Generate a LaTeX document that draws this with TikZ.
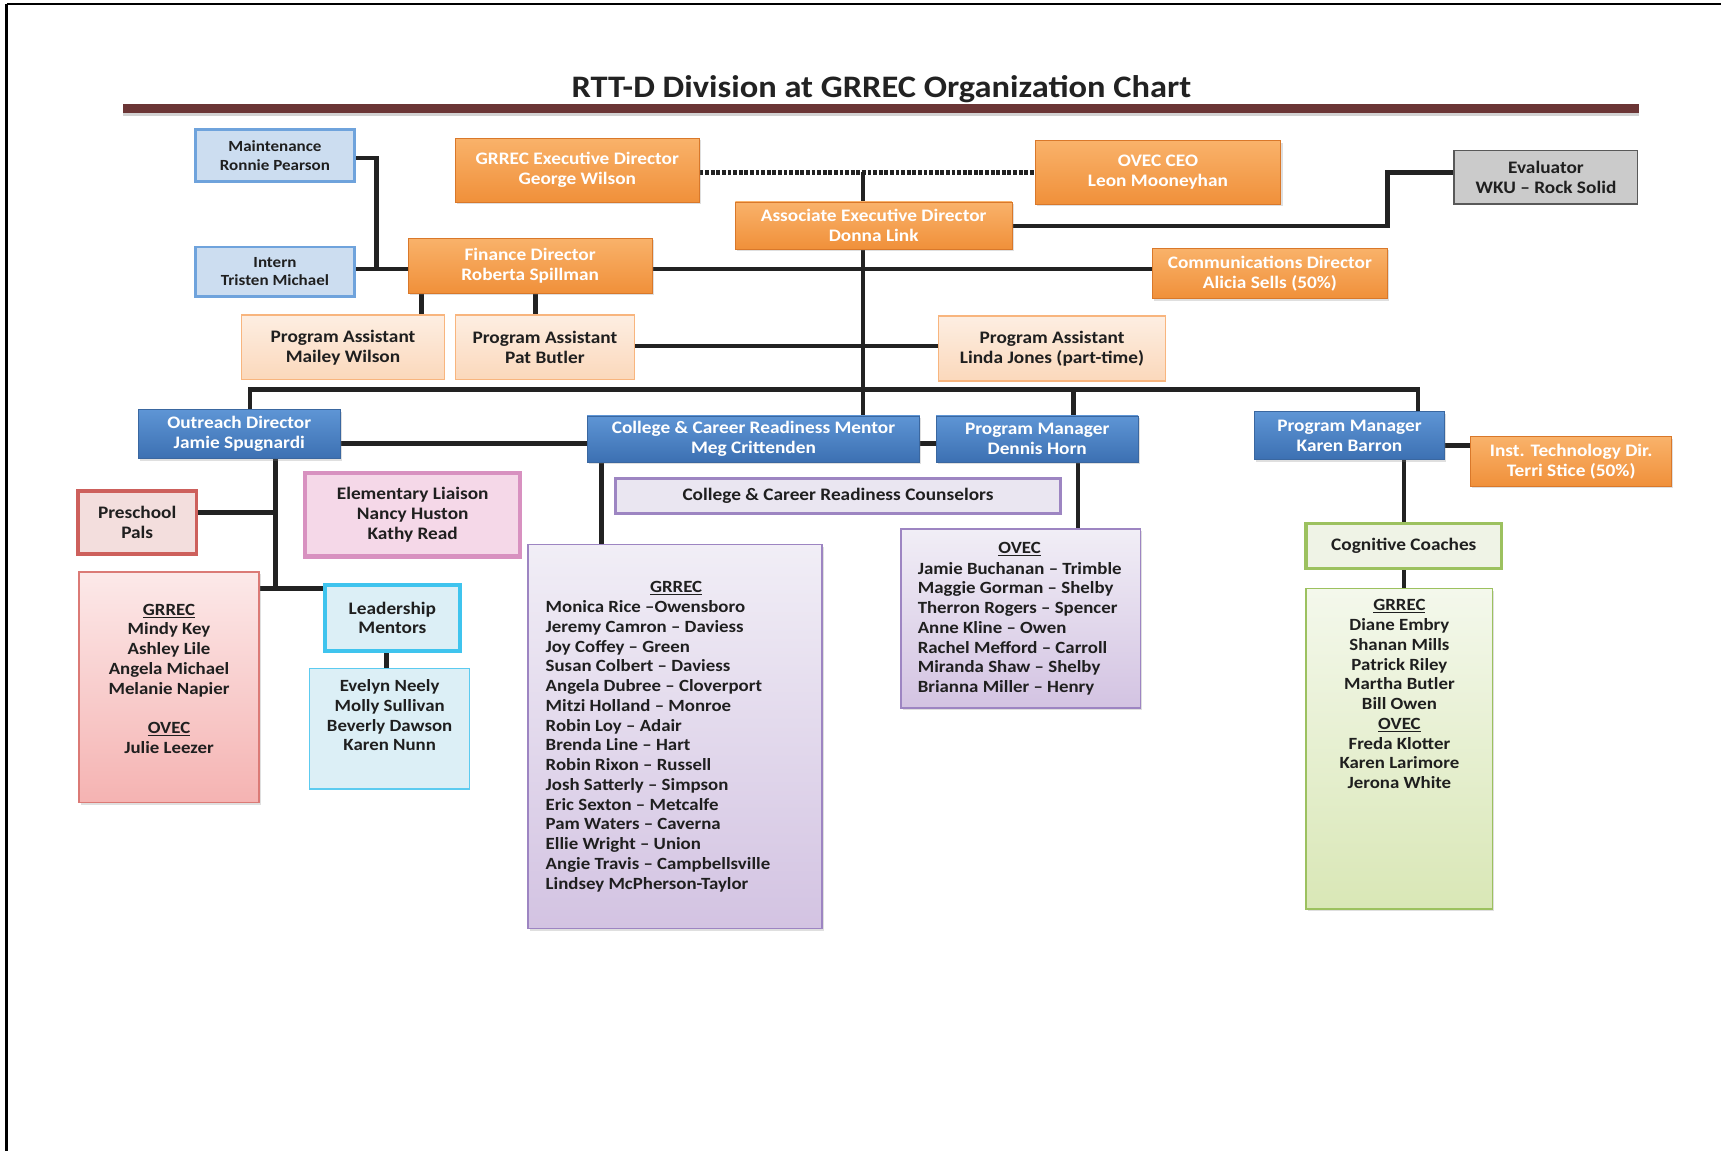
\documentclass[tikz,border=0pt]{standalone}
\usepackage{fontspec}
\setmainfont{Carlito}[FakeStretch=1.1]
\usetikzlibrary{shadows}
\pgfdeclarelayer{bg}
\pgfsetlayers{bg,main}
\definecolor{ink}{HTML}{1F1F1F}
\definecolor{linec}{HTML}{222222}
\definecolor{barc}{HTML}{6B3535}
\definecolor{orT}{HTML}{F9B26A}
\definecolor{orB}{HTML}{F0903A}
\definecolor{orD}{HTML}{D9782A}
\definecolor{blT}{HTML}{5E95D5}
\definecolor{blB}{HTML}{3C70B2}
\definecolor{blD}{HTML}{3A67A0}
\definecolor{lbF}{HTML}{CCDDF0}
\definecolor{lbD}{HTML}{6FA3DC}
\definecolor{pcT}{HTML}{FDEEE2}
\definecolor{pcB}{HTML}{FBD8BB}
\definecolor{pcD}{HTML}{F8B57E}
\definecolor{gyF}{HTML}{CBCBCB}
\definecolor{gyD}{HTML}{595959}
\definecolor{rdF}{HTML}{F3DEDD}
\definecolor{rdD}{HTML}{CD605C}
\definecolor{pkT}{HTML}{FCE9E9}
\definecolor{pkB}{HTML}{F5B3B2}
\definecolor{pkD}{HTML}{DB7A76}
\definecolor{elF}{HTML}{F5D8E8}
\definecolor{elD}{HTML}{D891C0}
\definecolor{cyF}{HTML}{DCEFF6}
\definecolor{cyD}{HTML}{3FC4EE}
\definecolor{cyL}{HTML}{5CCBF0}
\definecolor{puF}{HTML}{EAE6F1}
\definecolor{puD}{HTML}{9D85C2}
\definecolor{puT}{HTML}{F1EEF6}
\definecolor{puB}{HTML}{D3C3E2}
\definecolor{gnF}{HTML}{EFF3E6}
\definecolor{gnD}{HTML}{9CC15F}
\definecolor{gnT}{HTML}{F4F8EC}
\definecolor{gnB}{HTML}{D9E7B6}
\newcommand\fntT{\fontsize{28.5}{34}\selectfont\bfseries}
\newcommand\fntM{\fontsize{16}{18}\selectfont\bfseries}
\newcommand\fntS{\fontsize{14.1}{17}\selectfont\bfseries}
\newcommand\fntL{\fontsize{15.6}{18}\selectfont\bfseries}
\begin{document}
\begin{tikzpicture}[x=1pt,y=-1pt,
  box/.style={inner sep=0pt, align=center, font=\fntM, text=ink},
  sz/.style 2 args={minimum width=#1pt, minimum height=#2pt},
  shad/.style={drop shadow={opacity=0.25, shadow xshift=1.5pt, shadow yshift=-2pt}},
  orangebox/.style={box, shad, draw=orD, line width=0.8pt, top color=orT, bottom color=orB, text=white},
  bluebox/.style={box, shad, draw=blD, line width=0.8pt, top color=blT, bottom color=blB, text=white},
  ltbluebox/.style={box, draw=lbD, line width=2.6pt, fill=lbF, font=\fntS},
  peachbox/.style={box, draw=pcD, line width=1.2pt, top color=pcT, bottom color=pcB},
  graybox/.style={box, draw=gyD, line width=1.5pt, fill=gyF},
  redbox/.style={box, draw=rdD, line width=3.5pt, fill=rdF},
  pinklist/.style={box, shad, draw=pkD, line width=1.3pt, top color=pkT, bottom color=pkB},
  elembox/.style={box, draw=elD, line width=4pt, fill=elF},
  cyanbox/.style={box, draw=cyD, line width=4pt, fill=cyF},
  cyanlist/.style={box, draw=cyL, line width=1.3pt, fill=cyF},
  purplebox/.style={box, draw=puD, line width=3pt, fill=puF},
  purplelist/.style={box, shad, draw=puD, line width=1.3pt, top color=puT, bottom color=puB},
  greenbox/.style={box, draw=gnD, line width=3.5pt, fill=gnF},
  greenlist/.style={box, shad, draw=gnD, line width=1.3pt, top color=gnT, bottom color=gnB},
  listtxt/.style={inner sep=0pt, font=\fntL, text=ink},
  conn/.style={draw=linec, line width=4pt},
  dotconn/.style={draw=linec, line width=4pt, dash pattern=on 3.5pt off 1.6pt}]
\useasboundingbox (0,0) rectangle (1568,1049);
\begin{pgfonlayer}{bg}
\fill[white] (0,0) rectangle (1568,1049);
\end{pgfonlayer}
% page frame
\draw[line width=2pt] (6,3.6) -- (1568,3.6);
\draw[line width=2pt] (6,3.6) -- (6,1049);
% title
\node[font=\fntT, text=linec] (title) at (803,81) {RTT-D Division at GRREC Organization Chart};
\fill[gray!35] (112,101) rectangle (1493,106);
\fill[barc] (112,95) rectangle (1493,103);
% top boxes
\node[ltbluebox, sz={145}{47}] (maint) at (250.5,141.5) {Maintenance\\Ronnie Pearson};
\node[ltbluebox, sz={145}{45}] (intern) at (250.5,247.5) {Intern\\Tristen Michael};
\node[orangebox, sz={222}{58}] (gexec) at (526,155) {GRREC Executive Director\\George Wilson};
\node[orangebox, sz={224}{58}] (ovec) at (1055,157) {OVEC CEO\\Leon Mooneyhan};
\node[orangebox, sz={252}{43}] (aed) at (796,205.5) {Associate Executive Director\\Donna Link};
\node[orangebox, sz={222}{50}] (fin) at (483,242) {Finance Director\\Roberta Spillman};
\node[orangebox, sz={214}{46}] (comm) at (1157,249) {Communications Director\\Alicia Sells (50\%)};
\node[graybox, sz={167}{49}] (eval) at (1408.5,161.5) {Evaluator\\WKU – Rock Solid};
\node[peachbox, sz={185}{59}] (pa1) at (312.5,316.5) {Program Assistant\\Mailey Wilson};
\node[peachbox, sz={163}{59}] (pa2) at (496.5,316.5) {Program Assistant\\Pat Butler};
\node[peachbox, sz={207}{59}] (pa3) at (958.5,317.5) {Program Assistant\\Linda Jones (part-time)};
% second tier
\node[bluebox, sz={184}{45}] (outr) at (218,395.5) {Outreach Director\\Jamie Spugnardi};
\node[bluebox, sz={303}{42}] (ccrm) at (686.5,400) {College \& Career Readiness Mentor\\Meg Crittenden};
\node[bluebox, sz={184}{42}] (pmd) at (945,400) {Program Manager\\Dennis Horn};
\node[bluebox, sz={173}{44}] (pmk) at (1229.5,397) {Program Manager\\Karen Barron};
\node[orangebox, sz={183}{45}] (itd) at (1431.5,420.5) {Inst. Technology Dir.\\Terri Stice (50\%)};
% outreach branch
\node[redbox, sz={108}{58}] (pre) at (125,476) {Preschool\\Pals};
\node[elembox, sz={196}{76}] (elem) at (376,469) {Elementary Liaison\\Nancy Huston\\Kathy Read};
\node[pinklist, sz={164}{210}] (plist) at (154,626) {};
\node[cyanbox, sz={123}{60}] (lead) at (357.5,563) {Leadership\\Mentors};
\node[cyanlist, sz={146}{110}] (llist) at (355,664) {};
% counselors
\node[purplebox, sz={405}{32}] (ccrc) at (763.5,452) {College \& Career Readiness Counselors};
\node[purplelist, sz={268}{350}] (glist) at (615,671) {};
\node[purplelist, sz={218}{163}] (olist) at (930,563.5) {};
% coaches
\node[greenbox, sz={178}{41}] (cog) at (1279,497.5) {Cognitive Coaches};
\node[greenlist, sz={170}{292}] (clist) at (1275,682) {};
% list texts
\node[listtxt, align=center, anchor=north] (plistt) at (154,550) {\underline{GRREC}\\Mindy Key\\Ashley Lile\\Angela Michael\\Melanie Napier\\[18pt]\underline{OVEC}\\Julie Leezer};
\node[listtxt, align=center, anchor=north] (llistt) at (355,619) {Evelyn Neely\\Molly Sullivan\\Beverly Dawson\\Karen Nunn};
\node[listtxt, anchor=base] (glisth) at (616,540) {\underline{GRREC}};
\node[listtxt, align=left, anchor=north west] (glistt) at (497,547) {Monica Rice –Owensboro\\Jeremy Camron – Daviess\\Joy Coffey – Green\\Susan Colbert – Daviess\\Angela Dubree – Cloverport\\Mitzi Holland – Monroe\\Robin Loy – Adair\\Brenda Line – Hart\\Robin Rixon – Russell\\Josh Satterly – Simpson\\Eric Sexton – Metcalfe\\Pam Waters – Caverna\\Ellie Wright – Union\\Angie Travis – Campbellsville\\Lindsey McPherson-Taylor};
\node[listtxt, anchor=base] (olisth) at (929,504) {\underline{OVEC}};
\node[listtxt, align=left, anchor=north west] (olistt) at (836,512) {Jamie Buchanan – Trimble\\Maggie Gorman – Shelby\\Therron Rogers – Spencer\\Anne Kline – Owen\\Rachel Mefford – Carroll\\Miranda Shaw – Shelby\\Brianna Miller – Henry};
\node[listtxt, align=center, anchor=north] (clistt) at (1275,546) {\underline{GRREC}\\Diane Embry\\Shanan Mills\\Patrick Riley\\Martha Butler\\Bill Owen\\\underline{OVEC}\\Freda Klotter\\Karen Larimore\\Jerona White};
% junction coordinates
\coordinate (dotj) at (786,157);
\coordinate (jm) at (343,245);
\coordinate (hL) at (228,355);
\coordinate (hR) at (1292,355);
\coordinate (hD) at (978,355);
\coordinate (ev1) at (1264,206);
\coordinate (ev2) at (1264,157);
\coordinate (oj) at (251,536);
\coordinate (pj) at (251,467);
% connectors
\begin{pgfonlayer}{bg}
\draw[dotconn] (gexec.east |- dotj) -- (ovec.west |- dotj);
\draw[conn] (dotj) -- (aed.north -| dotj);
\draw[conn] (aed.south -| dotj) -- (ccrm.north -| dotj);
\draw[conn] (maint.east |- 0,144) -| (jm);
\draw[conn] (intern.east |- jm) -- (fin.west |- jm);
\draw[conn] (fin.east |- jm) -- (comm.west |- jm);
\draw[conn] (fin.south -| 384,0) -- (pa1.north -| 384,0);
\draw[conn] (fin.south -| 488,0) -- (pa2.north -| 488,0);
\draw[conn] (pa2.east |- 0,315) -- (pa3.west |- 0,315);
\draw[conn] (aed.east |- ev1) -- (ev1) -- (ev2) -- (eval.west |- ev2);
\draw[conn] (outr.north -| hL) -- (hL) -- (hR) -- (pmk.north -| hR);
\draw[conn] (hD) -- (pmd.north -| hD);
\draw[conn] (outr.east |- 0,404) -- (ccrm.west |- 0,404);
\draw[conn] (ccrm.east |- 0,404) -- (pmd.west |- 0,404);
\draw[conn] (outr.south -| oj) -- (oj);
\draw[conn] (pre.east |- pj) -- (pj);
\draw[conn] (plist.east |- oj) -- (lead.west |- oj);
\draw[conn] (lead.south -| 352,0) -- (llist.north -| 352,0);
\draw[conn] (ccrm.south -| 548,0) -- (glist.north -| 548,0);
\draw[conn] (pmd.south -| 982,0) -- (olist.north -| 982,0);
\draw[conn] (pmk.south -| 1279,0) -- (cog.north -| 1279,0);
\draw[conn] (cog.south -| 1279,0) -- (clist.north -| 1279,0);
\draw[conn] (pmk.east |- 0,406) -- (itd.west |- 0,406);
\end{pgfonlayer}
\end{tikzpicture}
\end{document}
